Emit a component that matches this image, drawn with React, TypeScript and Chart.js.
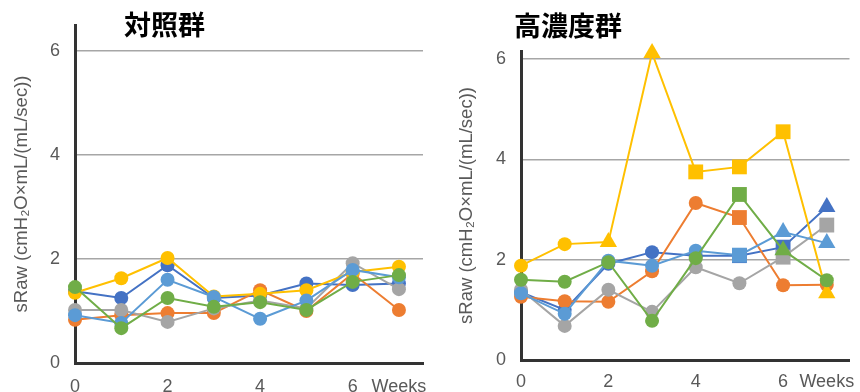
import React, { useEffect, useRef } from "react";
import { Chart, registerables } from "chart.js";

Chart.register(...registerables);

// ---------- data ----------
const weeks = [0, 1, 2, 3, 4, 5, 6, 7];
const xTickValues = [0, 2, 4, 6, 7];
const xTickLabels = ["0", "2", "4", "6", "Weeks"];
const yTickValues = [0, 2, 4, 6];
const yAxisTitle = "sRaw (cmH₂O×mL/(mL/sec))";
const controlTitle = "対照群";
const highTitle = "高濃度群";
const seriesNames = ["No.1", "No.2", "No.3", "No.4", "No.5", "No.6"];
const seriesColors = ["#4472C4", "#ED7D31", "#A5A5A5", "#FFC000", "#5B9BD5", "#70AD47"];

// control group
const controlS1 = [1.38, 1.25, 1.88, 1.25, 1.3, 1.53, 1.5, 1.53];
const controlS2 = [0.83, 0.92, 0.96, 0.96, 1.4, 1.0, 1.72, 1.02];
const controlS3 = [1.02, 1.02, 0.79, 1.05, 1.2, 1.05, 1.92, 1.42];
const controlS4 = [1.35, 1.63, 2.02, 1.28, 1.33, 1.4, 1.75, 1.85];
const controlS5 = [0.92, 0.77, 1.6, 1.27, 0.85, 1.2, 1.79, 1.65];
const controlS6 = [1.46, 0.67, 1.25, 1.08, 1.17, 1.02, 1.56, 1.69];

// high concentration group
const highS1 = [1.35, 1.0, 1.92, 2.15, 2.08, 2.08, 2.25, 3.05];
const highS2 = [1.26, 1.17, 1.16, 1.77, 3.13, 2.84, 1.49, 1.5];
const highS3 = [1.4, 0.68, 1.4, 0.96, 1.85, 1.53, 2.05, 2.69];
const highS4 = [1.88, 2.31, 2.35, 6.12, 3.75, 3.85, 4.55, 1.33];
const highS5 = [1.33, 0.92, 1.98, 1.88, 2.18, 2.09, 2.55, 2.33];
const highS6 = [1.6, 1.56, 1.95, 0.78, 2.03, 3.3, 2.19, 1.59];

// marker shapes (style)
const C = "circle", R = "rect", T = "triangle";
const highStyles1 = [C, C, C, C, C, R, R, T];
const highStyles2 = [C, C, C, C, C, R, C, C];
const highStyles3 = [C, C, C, C, C, C, R, R];
const highStyles4 = [C, C, T, T, R, R, R, T];
const highStyles5 = [C, C, C, C, C, R, T, T];
const highStyles6 = [C, C, C, C, C, R, T, C];

type PanelProps = {
  left: number;
  series: number[][];
  styles: string[][] | null;
  yMax: number;
  xMax: number;
  yAxisWidth: number;
  xAxisHeight: number;
  padTop: number;
  padRight: number;
  titlePadTop: number;
  xTickPad: number;
};

const radiusFor = (s: string) => (s === "rect" ? 10.5 : s === "triangle" ? 10 : 7);

function Panel(p: PanelProps) {
  const ref = useRef<HTMLCanvasElement>(null);
  useEffect(() => {
    if (!ref.current) return;
    const n = p.series.length;
    const datasets = p.series.map((vals, i) => {
      const st = p.styles ? p.styles[i] : null;
      return {
        label: seriesNames[i],
        data: weeks.map((w, j) => ({ x: w, y: vals[j] })),
        borderColor: seriesColors[i],
        backgroundColor: seriesColors[i],
        pointBackgroundColor: seriesColors[i],
        pointBorderColor: seriesColors[i],
        borderWidth: 2,
        pointBorderWidth: 0,
        pointStyle: st ? st : "circle",
        pointRadius: st ? st.map(radiusFor) : 7,
        tension: 0,
        clip: false as any,
        order: n - i,
      };
    });
    const chart = new Chart(ref.current, {
      type: "line",
      data: { datasets: datasets as any },
      options: {
        animation: false,
        responsive: false,
        maintainAspectRatio: false,
        layout: { padding: { top: p.padTop, right: p.padRight, left: 0, bottom: 0 } },
        plugins: { legend: { display: false }, tooltip: { enabled: false }, title: { display: false } },
        scales: {
          x: {
            type: "linear",
            min: 0,
            max: p.xMax,
            afterBuildTicks: (scale: any) => {
              scale.ticks = xTickValues.map((v) => ({ value: v }));
            },
            afterFit: (scale: any) => {
              scale.height = p.xAxisHeight;
              scale.paddingLeft = 0;
              scale.paddingRight = 0;
            },
            grid: { display: false, drawTicks: false },
            border: { display: true, color: "#333333", width: 3 },
            ticks: {
              autoSkip: false,
              maxRotation: 0,
              padding: p.xTickPad,
              color: "#595959",
              font: { family: "Liberation Sans, Arial, sans-serif", size: 18 },
              callback: (v: any) => {
                const k = xTickValues.indexOf(Number(v));
                return k >= 0 ? xTickLabels[k] : "";
              },
            },
          },
          y: {
            type: "linear",
            min: 0,
            max: p.yMax,
            afterBuildTicks: (scale: any) => {
              scale.ticks = yTickValues.map((v) => ({ value: v }));
            },
            afterFit: (scale: any) => {
              scale.width = p.yAxisWidth;
              scale.paddingTop = 0;
              scale.paddingBottom = 0;
            },
            grid: { color: "#A6A6A6", lineWidth: 1.5, drawTicks: false },
            border: { display: true, color: "#333333", width: 3 },
            ticks: {
              padding: 15,
              color: "#595959",
              font: { family: "Liberation Sans, Arial, sans-serif", size: 18 },
            },
            title: {
              display: true,
              text: yAxisTitle,
              color: "#595959",
              font: { family: "Liberation Sans, Arial, sans-serif", size: 18.5 },
              padding: { top: p.titlePadTop, bottom: 0 },
            },
          },
        },
      } as any,
    });
    return () => chart.destroy();
  }, []);
  return (
    <canvas
      ref={ref}
      width={430}
      height={392}
      style={{ position: "absolute", left: p.left, top: 0, width: 430, height: 392 }}
    />
  );
}

const titleStyle: React.CSSProperties = {
  position: "absolute",
  fontFamily: "'Noto Sans CJK JP', sans-serif",
  fontWeight: 700,
  fontSize: 27,
  lineHeight: 1,
  color: "#000",
  whiteSpace: "nowrap",
};

export default function App() {
  return (
    <div
      style={{
        position: "fixed",
        left: 0,
        top: 0,
        width: 860,
        height: 392,
        background: "#fff",
        overflow: "hidden",
      }}
    >
      <Panel
        left={0}
        series={[controlS1, controlS2, controlS3, controlS4, controlS5, controlS6]}
        styles={null}
        yMax={6.5}
        xMax={7.52}
        yAxisWidth={75}
        xAxisHeight={29}
        padTop={25}
        padRight={5}
        titlePadTop={11}
        xTickPad={13}
      />
      <Panel
        left={430}
        series={[highS1, highS2, highS3, highS4, highS5, highS6]}
        styles={[highStyles1, highStyles2, highStyles3, highStyles4, highStyles5, highStyles6]}
        yMax={6.16}
        xMax={7.52}
        yAxisWidth={91}
        xAxisHeight={32}
        padTop={51}
        padRight={2}
        titlePadTop={26}
        xTickPad={11}
      />
      <div style={{ ...titleStyle, left: 124, top: 10 }}>{controlTitle}</div>
      <div style={{ ...titleStyle, left: 514, top: 11 }}>{highTitle}</div>
    </div>
  );
}
